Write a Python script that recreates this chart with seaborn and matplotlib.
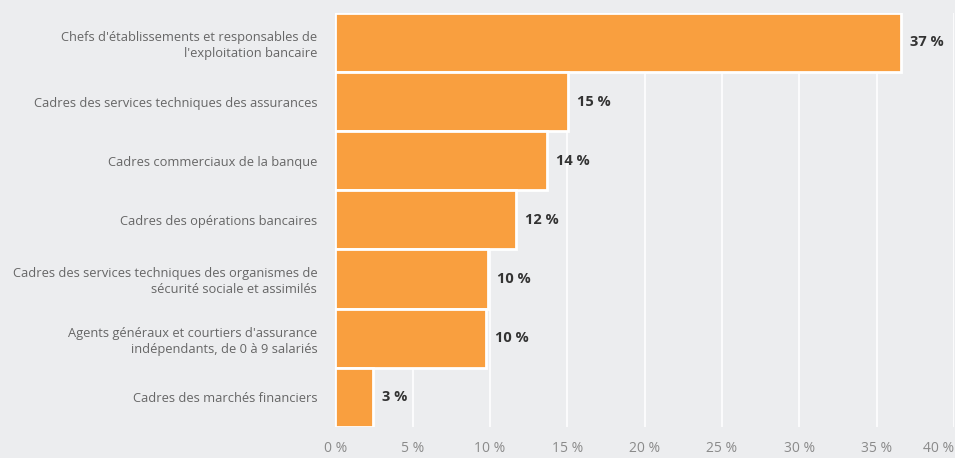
import numpy as np
import pandas as pd
import matplotlib.pyplot as plt
import seaborn as sns

# data
metiers = [
    "Chefs d'établissements et responsables de\nl'exploitation bancaire",
    "Cadres des services techniques des assurances",
    "Cadres commerciaux de la banque",
    "Cadres des opérations bancaires",
    "Cadres des services techniques des organismes de\nsécurité sociale et assimilés",
    "Agents généraux et courtiers d'assurance\nindépendants, de 0 à 9 salariés",
    "Cadres des marchés financiers",
]
parts = [36.6, 15.05, 13.7, 11.7, 9.9, 9.75, 2.45]
etiquettes = ["37 %", "15 %", "14 %", "12 %", "10 %", "10 %", "3 %"]
ticks = [0, 5, 10, 15, 20, 25, 30, 35, 40]

df = pd.DataFrame({"metier": metiers, "part": parts})

sns.set_style("white")
plt.rcParams['font.family'] = ['Open Sans', 'DejaVu Sans']

bg = "#ECEDEF"
orange = "#F99F3F"

fig = plt.figure(figsize=(9.55, 4.58), dpi=100, facecolor=bg)
ax = fig.add_axes([0.351, 0.068, 0.648, 0.904])
ax.set_facecolor(bg)

sns.barplot(data=df, x="part", y="metier", orient="h", color=orange,
            width=1.0, edgecolor="white", linewidth=2, saturation=1, ax=ax, zorder=3)

for i, (v, t) in enumerate(zip(parts, etiquettes)):
    ax.text(v + 0.55, i, t, va="center", ha="left", fontsize=10.5,
            fontweight="bold", color="#333333", zorder=4)

ax.set_xlim(0, 40)
ax.set_ylim(6.5, -0.5)
ax.set_xticks(ticks)
ax.set_xticklabels([f"{t} %" for t in ticks])
ax.grid(axis="x", color="white", linewidth=1.2, zorder=0)
ax.set_axisbelow(True)
for s in ax.spines.values():
    s.set_visible(False)
ax.axvline(0, color="#D8DADF", linewidth=1, zorder=2)

ax.tick_params(axis="x", length=0, labelsize=10, labelcolor="#8A8A8A", pad=10)
ax.tick_params(axis="y", length=0, labelsize=9.3, labelcolor="#666666", pad=13)
ax.get_xticklabels()[-1].set_horizontalalignment("right")
for lab in ax.get_yticklabels():
    lab.set_linespacing(1.3)
ax.set_xlabel("")
ax.set_ylabel("")

fig.savefig("out.png", dpi=100, facecolor=bg)
